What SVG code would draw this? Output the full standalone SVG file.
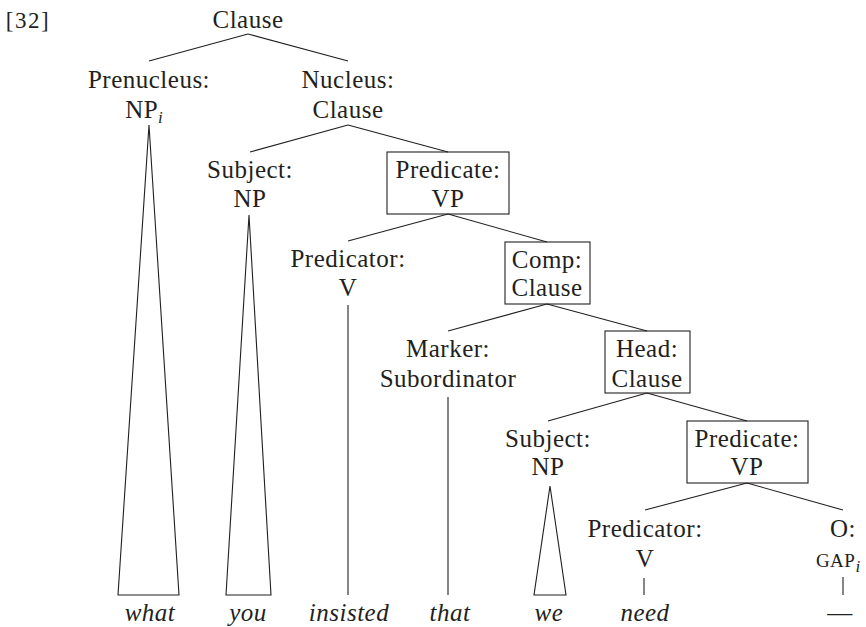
<svg xmlns="http://www.w3.org/2000/svg" width="866" height="627" viewBox="0 0 866 627">
<style>
text{font-family:"Liberation Serif","Times New Roman",serif;font-size:25px;fill:#231f20;text-anchor:middle;letter-spacing:0.5px}
.w{font-style:italic}
.sub{font-style:italic;font-size:17px;letter-spacing:0}
.sc{font-size:19px}
.br{font-size:23px;letter-spacing:1.5px}
line,polygon,.box{stroke:#231f20;stroke-width:1.1;fill:none}
polygon{fill:#fff}
</style>
<rect x="0" y="0" width="866" height="627" fill="#fff"/>
<text x="28" y="28" class="br">[32]</text>
<g id="connectors">
<line x1="248" y1="34" x2="149" y2="61"/>
<line x1="248" y1="34" x2="348" y2="61"/>
<line x1="348" y1="125" x2="250" y2="152"/>
<line x1="348" y1="125" x2="448" y2="152"/>
<line x1="448" y1="214" x2="348" y2="241"/>
<line x1="448" y1="214" x2="547" y2="242"/>
<line x1="547" y1="304" x2="448" y2="331"/>
<line x1="547" y1="304" x2="647" y2="331"/>
<line x1="647" y1="393" x2="548" y2="421"/>
<line x1="647" y1="393" x2="747" y2="421"/>
<line x1="747" y1="483" x2="645" y2="510"/>
<line x1="747" y1="483" x2="843" y2="510"/>
<line x1="348" y1="305" x2="348" y2="595"/>
<line x1="448" y1="397" x2="448" y2="595"/>
<line x1="644" y1="578" x2="644" y2="595"/>
<line x1="843" y1="577" x2="843" y2="595"/>
<polygon points="149,125 118,595 179,595"/>
<polygon points="249,215 226,595 271,595"/>
<polygon points="550,486 534,595 566,595"/>
</g>
<g id="n-clause"><text x="248" y="28">Clause</text></g>
<g id="n-prenucleus"><text x="149" y="88">Prenucleus:</text><text x="144" y="118">NP<tspan class="sub" dy="5">i</tspan></text></g>
<g id="n-nucleus"><text x="348" y="88">Nucleus:</text><text x="348" y="118">Clause</text></g>
<g id="n-subject1"><text x="250" y="178">Subject:</text><text x="250" y="207">NP</text></g>
<g id="n-predicate1"><rect class="box" x="387" y="152" width="122" height="62"/><text x="448" y="178">Predicate:</text><text x="448" y="207">VP</text></g>
<g id="n-predicator1"><text x="348" y="267">Predicator:</text><text x="348" y="296">V</text></g>
<g id="n-comp"><rect class="box" x="505" y="242" width="85" height="62"/><text x="547" y="268">Comp:</text><text x="547" y="296">Clause</text></g>
<g id="n-marker"><text x="448" y="357">Marker:</text><text x="448" y="387">Subordinator</text></g>
<g id="n-head"><rect class="box" x="605" y="331" width="85" height="62"/><text x="647" y="357">Head:</text><text x="647" y="387">Clause</text></g>
<g id="n-subject2"><text x="548" y="447">Subject:</text><text x="548" y="475">NP</text></g>
<g id="n-predicate2"><rect class="box" x="687" y="421" width="121" height="62"/><text x="747" y="447">Predicate:</text><text x="747" y="475">VP</text></g>
<g id="n-predicator2"><text x="645" y="537">Predicator:</text><text x="645" y="567">V</text></g>
<g id="n-object"><text x="843" y="537">O:</text><text x="838" y="567" class="sc">GAP<tspan class="sub" dy="5">i</tspan></text></g>
<g id="words">
<text class="w" x="150" y="621">what</text>
<text class="w" x="248" y="621">you</text>
<text class="w" x="349" y="621">insisted</text>
<text class="w" x="450" y="621">that</text>
<text class="w" x="549" y="621">we</text>
<text class="w" x="645" y="621">need</text>
<text x="840" y="621">—</text>
</g>
</svg>
